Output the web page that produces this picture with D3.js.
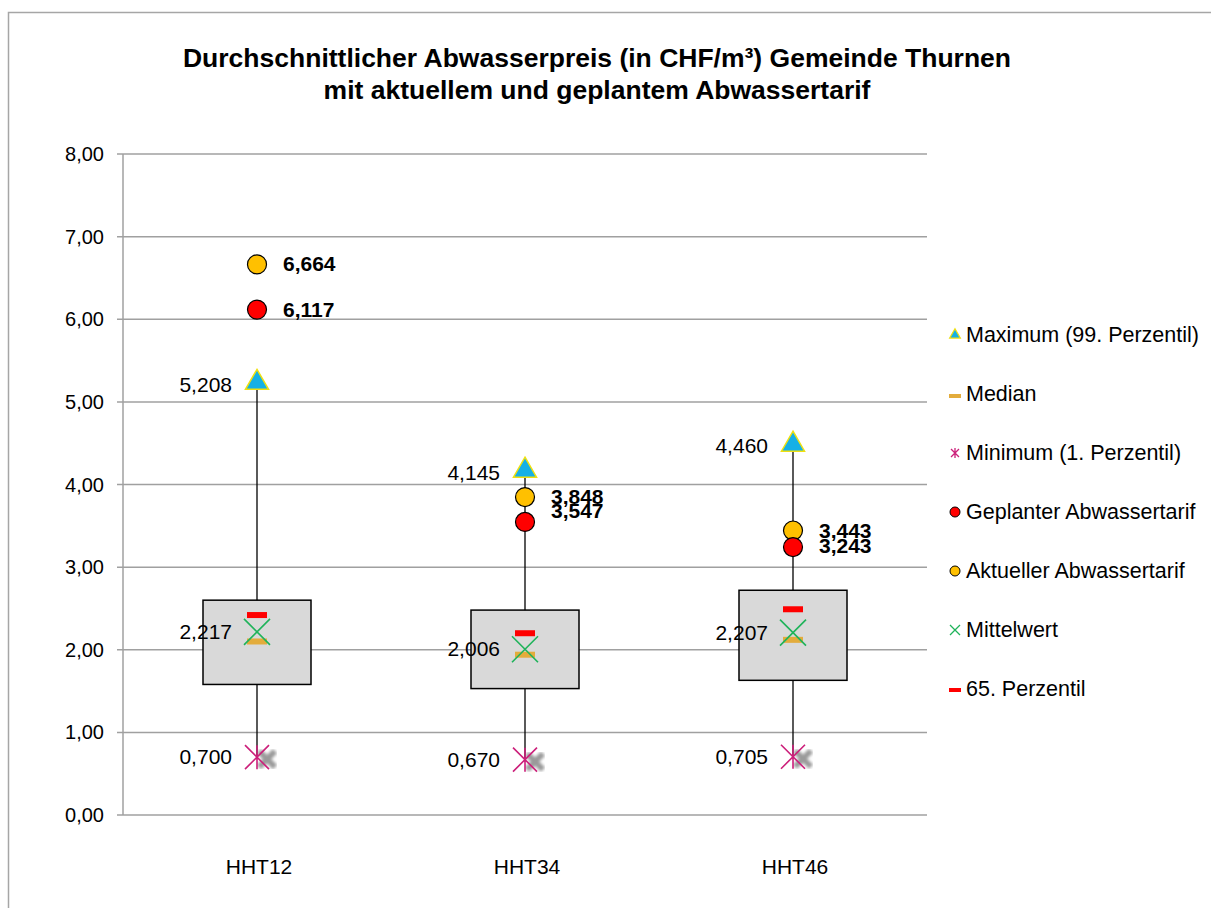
<!DOCTYPE html>
<html>
<head>
<meta charset="utf-8">
<script src="https://cdn.jsdelivr.net/npm/d3@7"></script>
<style>
  body { margin: 0; background: #fff; }
  svg { font-family: "Liberation Sans", Arial, sans-serif; }
</style>
</head>
<body>
<div id="chart"></div>
<script>
// chart data
const categories = ["HHT12", "HHT34", "HHT46"];
const boxTop = [2.60, 2.48, 2.72];
const boxBottom = [1.58, 1.53, 1.63];
const maximum = [5.208, 4.145, 4.460];
const minimum = [0.700, 0.670, 0.705];
const median = [2.10, 1.94, 2.12];
const mittelwert = [2.217, 2.006, 2.207];
const perz65 = [2.42, 2.20, 2.49];
const geplant = [6.117, 3.547, 3.243];
const aktuell = [6.664, 3.848, 3.443];
const yTicks = [0, 1, 2, 3, 4, 5, 6, 7, 8];
const legendItems = [
  "Maximum (99. Perzentil)",
  "Median",
  "Minimum (1. Perzentil)",
  "Geplanter Abwassertarif",
  "Aktueller Abwassertarif",
  "Mittelwert",
  "65. Perzentil",
];

const width = 1211;
const height = 908;
const fmt = (v, n) => v.toFixed(n).replace(".", ",");

const svg = d3
  .select("#chart")
  .append("svg")
  .attr("width", width)
  .attr("height", height);

// outer frame
svg
  .append("path")
  .attr("d", "M8.5,908 V12.5 H1211")
  .attr("fill", "none")
  .attr("stroke", "#a6a6a6")
  .attr("stroke-width", 1.5);

// title
const title = svg
  .append("text")
  .attr("text-anchor", "middle")
  .attr("font-weight", "bold")
  .attr("font-size", 26.5)
  .attr("fill", "#000");
title.append("tspan").attr("x", 597).attr("y", 67).text("Durchschnittlicher Abwasserpreis (in CHF/m³) Gemeinde Thurnen");
title.append("tspan").attr("x", 597).attr("y", 99).text("mit aktuellem und geplantem Abwassertarif");

const x = d3.scaleBand().domain(categories).range([123, 927]);
const y = d3.scaleLinear().domain([0, 8]).range([815, 154]);
const cx = (i) => x(categories[i]) + x.bandwidth() / 2;

// gridlines
svg
  .selectAll(".grid")
  .data(yTicks)
  .enter()
  .append("line")
  .attr("x1", 117)
  .attr("x2", 927)
  .attr("y1", (d) => y(d))
  .attr("y2", (d) => y(d))
  .attr("stroke", "#a0a0a0")
  .attr("stroke-width", 1.5);

svg
  .append("line")
  .attr("x1", 123)
  .attr("x2", 123)
  .attr("y1", y(8))
  .attr("y2", y(0))
  .attr("stroke", "#a0a0a0")
  .attr("stroke-width", 1.5);

svg
  .selectAll(".ytick")
  .data(yTicks)
  .enter()
  .append("text")
  .attr("x", 104)
  .attr("y", (d) => y(d) + 7)
  .attr("text-anchor", "end")
  .attr("font-size", 20)
  .text((d) => fmt(d, 2));

svg
  .selectAll(".xtick")
  .data(categories)
  .enter()
  .append("text")
  .attr("x", (d) => x(d) + x.bandwidth() / 2 + 2)
  .attr("y", 874)
  .attr("text-anchor", "middle")
  .attr("font-size", 21)
  .text((d) => d);

const idx = d3.range(categories.length);

// whiskers
svg
  .selectAll(".whisker")
  .data(idx)
  .enter()
  .append("line")
  .attr("x1", (i) => cx(i))
  .attr("x2", (i) => cx(i))
  .attr("y1", (i) => y(maximum[i]))
  .attr("y2", (i) => y(minimum[i]))
  .attr("stroke", "#000")
  .attr("stroke-width", 1.3);

// boxes
svg
  .selectAll(".box")
  .data(idx)
  .enter()
  .append("rect")
  .attr("x", (i) => cx(i) - 54)
  .attr("width", 108)
  .attr("y", (i) => y(boxTop[i]))
  .attr("height", (i) => y(boxBottom[i]) - y(boxTop[i]))
  .attr("fill", "#d9d9d9")
  .attr("stroke", "#000")
  .attr("stroke-width", 1.5);

// blur for min shadow
const defs = svg.append("defs");
defs
  .append("filter")
  .attr("id", "blur")
  .append("feGaussianBlur")
  .attr("stdDeviation", 1.6);

// minimum shadow + marker
idx.forEach((i) => {
  const px = cx(i);
  const py = y(minimum[i]);
  const s = 8;
  const g = svg.append("g");
  g.append("path")
    .attr("d", `M${px + 10 - s},${py + 2 - s}L${px + 10 + s},${py + 2 + s}M${px + 10 - s},${py + 2 + s}L${px + 10 + s},${py + 2 - s}`)
    .attr("stroke", "#9a9a9a")
    .attr("stroke-width", 6)
    .attr("filter", "url(#blur)");
  const m = 12;
  g.append("path")
    .attr("d", `M${px - m},${py - m}L${px + m},${py + m}M${px - m},${py + m}L${px + m},${py - m}M${px},${py - m}L${px},${py + m}`)
    .attr("stroke", "#cc1f7a")
    .attr("stroke-width", 1.6)
    .attr("fill", "none");
});

// median bars
svg
  .selectAll(".median")
  .data(idx)
  .enter()
  .append("rect")
  .attr("x", (i) => cx(i) - 10)
  .attr("width", 20)
  .attr("y", (i) => y(median[i]) - 3)
  .attr("height", 6)
  .attr("fill", "#e3ac3c");

// 65th percentile bars
svg
  .selectAll(".p65")
  .data(idx)
  .enter()
  .append("rect")
  .attr("x", (i) => cx(i) - 10)
  .attr("width", 20)
  .attr("y", (i) => y(perz65[i]) - 3)
  .attr("height", 6)
  .attr("fill", "#ff0000");

// mean X
svg
  .selectAll(".mean")
  .data(idx)
  .enter()
  .append("path")
  .attr("d", (i) => {
    const px = cx(i), py = y(mittelwert[i]), m = 13;
    return `M${px - m},${py - m}L${px + m},${py + m}M${px - m},${py + m}L${px + m},${py - m}`;
  })
  .attr("stroke", "#1fb35a")
  .attr("stroke-width", 1.6);

// maximum triangles
const tri = d3.symbol().type(d3.symbolTriangle).size(230);
svg
  .selectAll(".max")
  .data(idx)
  .enter()
  .append("path")
  .attr("d", tri)
  .attr("transform", (i) => `translate(${cx(i)},${y(maximum[i]) - 2})`)
  .attr("fill", "#15b0e6")
  .attr("stroke", "#f0e010")
  .attr("stroke-width", 1.5);

// tariff circles
svg
  .selectAll(".akt")
  .data(idx)
  .enter()
  .append("circle")
  .attr("cx", (i) => cx(i))
  .attr("cy", (i) => y(aktuell[i]))
  .attr("r", 9.5)
  .attr("fill", "#ffc000")
  .attr("stroke", "#000")
  .attr("stroke-width", 1.2);

svg
  .selectAll(".gep")
  .data(idx)
  .enter()
  .append("circle")
  .attr("cx", (i) => cx(i))
  .attr("cy", (i) => y(geplant[i]))
  .attr("r", 9.5)
  .attr("fill", "#ff0000")
  .attr("stroke", "#000")
  .attr("stroke-width", 1.2);

// value labels (left)
[maximum, mittelwert, minimum].forEach((vals) => {
  svg
    .selectAll(null)
    .data(idx)
    .enter()
    .append("text")
    .attr("x", (i) => cx(i) - 25)
    .attr("y", (i) => y(vals[i]) + 7)
    .attr("text-anchor", "end")
    .attr("font-size", 21)
    .text((i) => fmt(vals[i], 3));
});

// value labels (right, bold); the planned-tariff label of HHT34 is nudged up
const rightDy = [
  [7, 7, 7],
  [7, -4, 6],
];
[aktuell, geplant].forEach((vals, k) => {
  svg
    .selectAll(null)
    .data(idx)
    .enter()
    .append("text")
    .attr("x", (i) => cx(i) + 26)
    .attr("y", (i) => y(vals[i]) + rightDy[k][i])
    .attr("font-size", 21)
    .attr("font-weight", "bold")
    .text((i) => fmt(vals[i], 3));
});

// legend
const legend = svg
  .selectAll(".legend")
  .data(legendItems)
  .enter()
  .append("g")
  .attr("transform", (d, i) => `translate(955,${334 + i * 59})`);

legend
  .append("text")
  .attr("x", 11)
  .attr("y", 7.5)
  .attr("font-size", 21.5)
  .text((d) => d);

legend.each(function (d, i) {
  const g = d3.select(this);
  if (i === 0) {
    g.append("path")
      .attr("d", d3.symbol().type(d3.symbolTriangle).size(50))
      .attr("transform", "translate(0,1)")
      .attr("fill", "#15b0e6")
      .attr("stroke", "#f0e010")
      .attr("stroke-width", 1.2);
  } else if (i === 1) {
    g.append("rect").attr("x", -6).attr("y", 1).attr("width", 12).attr("height", 4).attr("fill", "#e3ac3c");
  } else if (i === 2) {
    g.append("path")
      .attr("d", "M-4,-3L4,5M-4,5L4,-3M0,-4L0,6")
      .attr("stroke", "#cc1f7a")
      .attr("stroke-width", 1.3);
  } else if (i === 3) {
    g.append("circle").attr("cy", 1).attr("r", 5).attr("fill", "#ff0000").attr("stroke", "#000");
  } else if (i === 4) {
    g.append("circle").attr("cy", 1).attr("r", 5).attr("fill", "#ffc000").attr("stroke", "#000");
  } else if (i === 5) {
    g.append("path")
      .attr("d", "M-5,-4L5,6M-5,6L5,-4")
      .attr("stroke", "#1fb35a")
      .attr("stroke-width", 1.3);
  } else {
    g.append("rect").attr("x", -6).attr("y", 0).attr("width", 12).attr("height", 4).attr("fill", "#ff0000");
  }
});
</script>
</body>
</html>
